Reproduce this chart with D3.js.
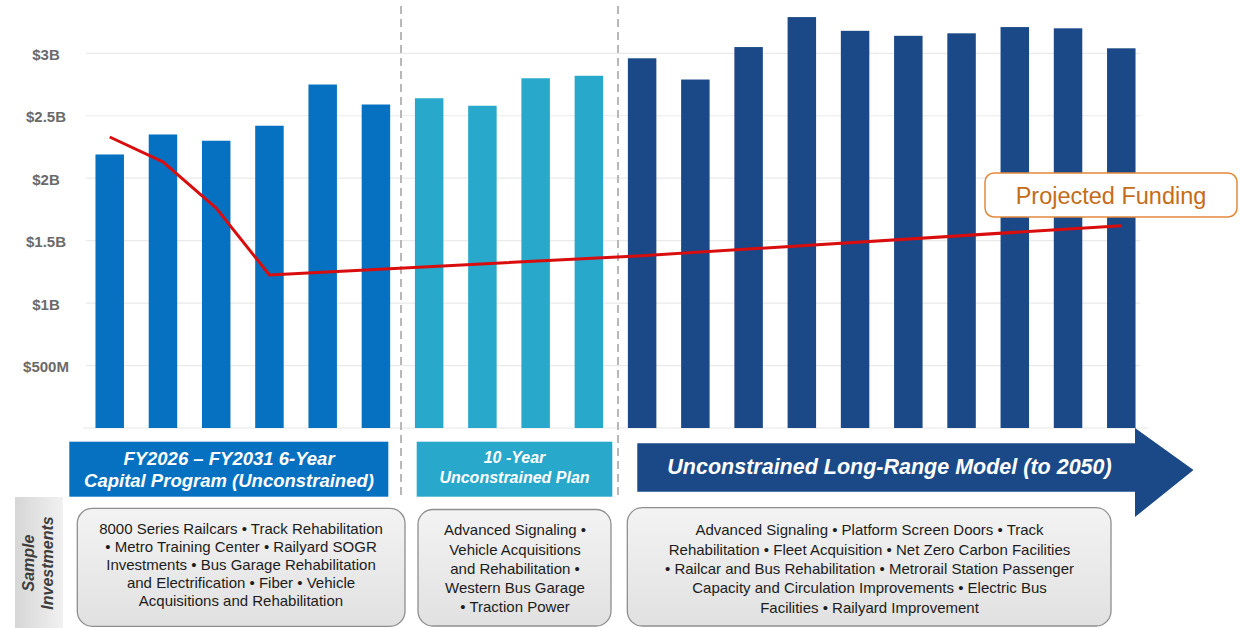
<!DOCTYPE html>
<html>
<head>
<meta charset="utf-8">
<script src="https://cdn.jsdelivr.net/npm/d3@7"></script>
<style>
  html, body { margin: 0; padding: 0; background: #ffffff; }
  svg { display: block; font-family: "Liberation Sans", Arial, Helvetica, sans-serif; }
</style>
</head>
<body>
<svg id="chart" width="1241" height="628"></svg>
<script>
// ---- Data (billions of dollars) ----
const fiscalYears = ["FY2026", "FY2027", "FY2028", "FY2029", "FY2030", "FY2031",
                     "FY2032", "FY2033", "FY2034", "FY2035",
                     "FY2036", "FY2037", "FY2038", "FY2039", "FY2040",
                     "FY2041", "FY2042", "FY2043", "FY2044", "FY2045"];
const capitalNeeds = [2.19, 2.35, 2.30, 2.42, 2.75, 2.59,
                      2.64, 2.58, 2.80, 2.82,
                      2.96, 2.79, 3.05, 3.29, 3.18, 3.14, 3.16, 3.21, 3.20, 3.04];
// number of bars in each planning horizon
const phaseLengths = [6, 4, 10];
const phaseKeys = ["capital", "tenYear", "longRange"];

const fundingYears = ["FY2026", "FY2027", "FY2028", "FY2029", "FY2036", "FY2045"];
const fundingValues = [2.33, 2.13, 1.76, 1.225, 1.38, 1.62];

const tickValues = [0.5, 1, 1.5, 2, 2.5, 3];
const tickLabels = ["$500M", "$1B", "$1.5B", "$2B", "$2.5B", "$3B"];

const phaseTitles = [
  ["FY2026 \u2013 FY2031 6-Year", "Capital Program (Unconstrained)"],
  ["10 -Year", "Unconstrained Plan"],
  ["Unconstrained Long-Range Model (to 2050)"]
];
const sampleInvestments = [
  ["8000 Series Railcars \u2022 Track Rehabilitation",
   "\u2022 Metro Training Center \u2022 Railyard SOGR",
   "Investments \u2022 Bus Garage Rehabilitation",
   "and Electrification \u2022 Fiber \u2022 Vehicle",
   "Acquisitions and Rehabilitation"],
  ["Advanced Signaling \u2022",
   "Vehicle Acquisitions",
   "and Rehabilitation \u2022",
   "Western Bus Garage",
   "\u2022 Traction Power"],
  ["Advanced Signaling \u2022 Platform Screen Doors \u2022 Track",
   "Rehabilitation \u2022 Fleet Acquisition \u2022 Net Zero Carbon Facilities",
   "\u2022 Railcar and Bus Rehabilitation \u2022 Metrorail Station Passenger",
   "Capacity and Circulation Improvements \u2022 Electric Bus",
   "Facilities \u2022 Railyard Improvement"]
];

// ---- Styles ----
const phaseColors = { capital: "#0671c1", tenYear: "#28a8cb", longRange: "#1b4987" };
const fundingColor = "#d90d0d";

const svg = d3.select("#chart");
const defs = svg.append("defs");

const boxGrad = defs.append("linearGradient").attr("id", "boxFill")
  .attr("x1", 0).attr("y1", 0).attr("x2", 0).attr("y2", 1);
boxGrad.append("stop").attr("offset", "0%").attr("stop-color", "#f3f3f3");
boxGrad.append("stop").attr("offset", "100%").attr("stop-color", "#e1e1e1");

const sideGrad = defs.append("linearGradient").attr("id", "sideFill")
  .attr("x1", 0).attr("y1", 0).attr("x2", 1).attr("y2", 0);
sideGrad.append("stop").attr("offset", "0%").attr("stop-color", "#d6d6d6");
sideGrad.append("stop").attr("offset", "60%").attr("stop-color", "#e6e6e6");
sideGrad.append("stop").attr("offset", "100%").attr("stop-color", "#f1f1f1");

// ---- Scales ----
const x = d3.scaleBand()
  .domain(fiscalYears)
  .range([83.1, 1147.9])
  .paddingInner(0.465)
  .paddingOuter(0.2325);

const y = d3.scaleLinear().domain([0, 3]).range([428, 53.3]);

// phase of each bar
const barPhase = [];
phaseLengths.forEach((n, i) => { for (let k = 0; k < n; k++) barPhase.push(phaseKeys[i]); });

// ---- Gridlines & axis ----
svg.append("g").attr("class", "grid")
  .selectAll("line").data(tickValues).join("line")
  .attr("x1", 86).attr("x2", 1140)
  .attr("y1", d => y(d)).attr("y2", d => y(d))
  .attr("stroke", "#eaeaea").attr("stroke-width", 1.2);

svg.append("line")
  .attr("x1", 83).attr("x2", 1148).attr("y1", y(0)).attr("y2", y(0))
  .attr("stroke", "#e6e6e6").attr("stroke-width", 1.2);

const yAxis = svg.append("g").attr("class", "y-axis")
  .call(d3.axisLeft(y).tickValues(tickValues)
    .tickFormat((d, i) => tickLabels[i]).tickSize(0));
yAxis.select(".domain").remove();
yAxis.selectAll("text")
  .attr("x", 46).attr("dy", "0.4em")
  .attr("text-anchor", "middle")
  .attr("fill", "#6a6a6a")
  .style("font-size", "15px").style("font-weight", "bold")
  .style("font-family", "'Liberation Sans', Arial, sans-serif");

// ---- Phase separators ----
svg.append("g").selectAll("line").data([401, 618]).join("line")
  .attr("x1", d => d).attr("x2", d => d)
  .attr("y1", 6).attr("y2", 498)
  .attr("stroke", "#b8b8b8").attr("stroke-width", 2)
  .attr("stroke-dasharray", "8,5");

// ---- Bars ----
svg.append("g").attr("class", "bars")
  .selectAll("rect").data(capitalNeeds).join("rect")
  .attr("x", (d, i) => x(fiscalYears[i]))
  .attr("width", x.bandwidth())
  .attr("y", d => y(d))
  .attr("height", d => y(0) - y(d))
  .attr("fill", (d, i) => phaseColors[barPhase[i]]);

// ---- Projected funding line ----
const fundingPoints = fundingYears.map((yr, i) => [x(yr) + x.bandwidth() / 2, y(fundingValues[i])]);
svg.append("path")
  .attr("d", d3.line()(fundingPoints))
  .attr("fill", "none")
  .attr("stroke", fundingColor)
  .attr("stroke-width", 3)
  .attr("stroke-linejoin", "round");

// callout label
const callout = svg.append("g");
callout.append("rect")
  .attr("x", 985).attr("y", 173).attr("width", 252).attr("height", 44)
  .attr("rx", 9).attr("fill", "#ffffff")
  .attr("stroke", "#e2883b").attr("stroke-width", 1.5);
callout.append("text")
  .attr("x", 1111).attr("y", 203.5)
  .attr("text-anchor", "middle")
  .attr("fill", "#c56c18")
  .style("font-size", "23.5px")
  .text("Projected Funding");

// ---- Phase banners ----
const banners = svg.append("g").attr("class", "banners");
banners.append("rect").attr("x", 69.3).attr("y", 441.7).attr("width", 319).attr("height", 55)
  .attr("fill", phaseColors.capital);
banners.append("rect").attr("x", 416.7).attr("y", 441.7).attr("width", 195.6).attr("height", 55)
  .attr("fill", phaseColors.tenYear);
banners.append("path")
  .attr("d", "M637.3,443.3 L1135,443.3 L1135,428 L1193.5,470 L1135,517 L1135,491.7 L637.3,491.7 Z")
  .attr("fill", phaseColors.longRange);

const bannerText = [
  { x: 229, ys: [465, 487], size: 18.5, lines: phaseTitles[0] },
  { x: 514.5, ys: [463, 483], size: 16, lines: phaseTitles[1] },
  { x: 889.5, ys: [474], size: 21.5, lines: phaseTitles[2] }
];
bannerText.forEach(b => {
  b.lines.forEach((t, i) => {
    banners.append("text")
      .attr("x", b.x).attr("y", b.ys[i])
      .attr("text-anchor", "middle")
      .attr("fill", "#ffffff")
      .style("font-size", b.size + "px")
      .style("font-weight", "bold").style("font-style", "italic")
      .text(t);
  });
});

// ---- Sample investments ----
const side = svg.append("g");
side.append("rect").attr("x", 15).attr("y", 497).attr("width", 48).attr("height", 131)
  .attr("fill", "url(#sideFill)");
const sideLabel = side.append("g").attr("transform", "translate(38,563) rotate(-90)");
[["Sample", -4.5], ["Investments", 15.2]].forEach(([t, yy]) => {
  sideLabel.append("text")
    .attr("x", 0).attr("y", yy)
    .attr("text-anchor", "middle")
    .attr("fill", "#3d3d3d")
    .style("font-size", "16px").style("font-weight", "bold").style("font-style", "italic")
    .text(t);
});

const boxes = [
  { x: 77.3, y: 508.3, w: 327.7, h: 118, cx: 241, base: 533.7, lh: 18.1 },
  { x: 418, y: 509.5, w: 193, h: 116.5, cx: 515, base: 535.2, lh: 19.3 },
  { x: 627.3, y: 507.7, w: 483.7, h: 118.3, cx: 869.5, base: 535.4, lh: 19.3 }
];
boxes.forEach((b, i) => {
  const g = svg.append("g").attr("class", "investments");
  g.append("rect")
    .attr("x", b.x).attr("y", b.y).attr("width", b.w).attr("height", b.h)
    .attr("rx", 15).attr("fill", "url(#boxFill)")
    .attr("stroke", "#8e8e8e").attr("stroke-width", 1.3);
  sampleInvestments[i].forEach((line, k) => {
    g.append("text")
      .attr("x", b.cx).attr("y", b.base + k * b.lh)
      .attr("text-anchor", "middle")
      .attr("fill", "#1c1c1c")
      .style("font-size", "15px")
      .text(line);
  });
});
</script>
</body>
</html>
